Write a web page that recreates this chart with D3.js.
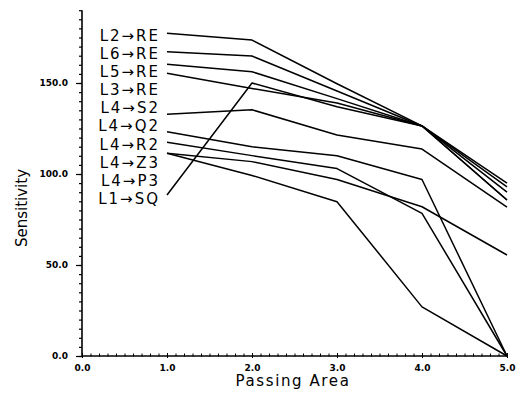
<!DOCTYPE html>
<html><head><meta charset="utf-8">
<script src="https://cdn.jsdelivr.net/npm/d3@7"></script>
<style>body{margin:0;background:#fff}svg{display:block}</style>
</head><body>
<svg id="c" width="521" height="399"></svg>
<script>
const xValues = [1, 2, 3, 4, 5];
const seriesNames = ["L2\u2192RE","L6\u2192RE","L5\u2192RE","L3\u2192RE","L4\u2192S2","L4\u2192Q2","L4\u2192R2","L4\u2192Z3","L4\u2192P3","L1\u2192SQ"];
const sL2RE = [177.3, 173.6, 149.6, 126.4, 95.0];
const sL6RE = [167.2, 164.8, 145.6, 126.4, 92.9];
const sL5RE = [160.3, 156.2, 141.4, 126.4, 90.0];
const sL3RE = [155.3, 147.0, 139.0, 126.4, 85.7];
const sL4S2 = [132.8, 135.3, 121.4, 113.7, 81.8];
const sL4Q2 = [123.2, 115.0, 110.0, 97.0, 0];
const sL4R2 = [117.4, 110.1, 103.0, 78.4, 0];
const sL4Z3 = [111.4, 106.8, 97.0, 82.0, 55.5];
const sL4P3 = [111.4, 99.2, 84.8, 27.0, 0];
const sL1SQ = [88.5, 150.0, 137.0, 126.4, 85.7];
const allSeries = [sL2RE, sL6RE, sL5RE, sL3RE, sL4S2, sL4Q2, sL4R2, sL4Z3, sL4P3, sL1SQ];
const xTickLabels = ["0.0","1.0","2.0","3.0","4.0","5.0"];
const yTickValues = [0, 50, 100, 150];
const yTickLabels = ["0.0","50.0","100.0","150.0"];

const svg = d3.select("#c");
const x = d3.scaleLinear().domain([0, 5]).range([82, 507]);
const y = d3.scaleLinear().domain([0, 190]).range([356, 10.2]);

// x axis
const xAxisMinor = d3.axisBottom(x).tickValues(d3.range(0, 50.5, 1).map(d => d / 10)).tickSize(3).tickFormat("");
const gxm = svg.append("g").attr("transform", "translate(0,355)").call(xAxisMinor);
gxm.select(".domain").remove();
gxm.selectAll("line").attr("stroke", "#000").attr("y1", -1.5).attr("y2", 1.5);
const xAxis = d3.axisBottom(x).tickValues([0,1,2,3,4,5]).tickSize(4).tickFormat((d,i) => xTickLabels[i]);
const gx = svg.append("g").attr("transform", "translate(0,356)").call(xAxis);
gx.select(".domain").attr("stroke", "#000").attr("stroke-width", 1.6).attr("d", `M${x(0)},0H${x(5)}`);
gx.selectAll("line").attr("stroke", "#000").attr("y1", -3).attr("y2", 2);
gx.selectAll("text").attr("font-family", "DejaVu Sans").attr("font-size", 9).attr("font-weight", "bold").attr("fill", "#000").attr("dy", "0.9em");

// y axis
const yAxisMinor = d3.axisLeft(y).tickValues(d3.range(0, 191, 5)).tickSize(3).tickFormat("");
const gym = svg.append("g").attr("transform", "translate(82,0)").call(yAxisMinor);
gym.select(".domain").remove();
gym.selectAll("line").attr("stroke", "#000").attr("stroke-width", 1.2);
const yAxis = d3.axisLeft(y).tickValues(yTickValues).tickSize(6).tickPadding(8).tickFormat((d,i) => yTickLabels[i]);
const gy = svg.append("g").attr("transform", "translate(82,0)").call(yAxis);
gy.select(".domain").attr("stroke", "#000").attr("stroke-width", 1.6).attr("d", `M0,${y(0)}V${y(190)}`);
gy.selectAll("line").attr("stroke", "#000").attr("stroke-width", 1.2);
gy.selectAll("text").attr("font-family", "DejaVu Sans").attr("font-size", 9).attr("font-weight", "bold").attr("fill", "#000");

// lines
const line = d3.line().x((d, i) => x(xValues[i])).y(d => y(d));
svg.append("g").selectAll("path").data(allSeries).join("path")
  .attr("d", line).attr("fill", "none").attr("stroke", "#000").attr("stroke-width", 1.5)
  .attr("stroke-linejoin", "round");

// series labels
svg.append("g").selectAll("text").data(seriesNames).join("text")
  .attr("x", 160).attr("y", (d, i) => 35.7 + i * 18.07)
  .attr("dy", "0.36em").attr("text-anchor", "end")
  .attr("font-family", "DejaVu Sans").attr("font-size", 15).attr("letter-spacing", 2)
  .attr("fill", "#000").text(d => d);

// axis titles
svg.append("text").attr("x", 293).attr("y", 386).attr("text-anchor", "middle")
  .attr("font-family", "DejaVu Sans").attr("font-size", 15).attr("letter-spacing", 1.6).text("Passing Area");
svg.append("text").attr("transform", "translate(27,208) rotate(-90)").attr("text-anchor", "middle")
  .attr("font-family", "DejaVu Sans").attr("font-size", 15).text("Sensitivity");
</script>
</body></html>
